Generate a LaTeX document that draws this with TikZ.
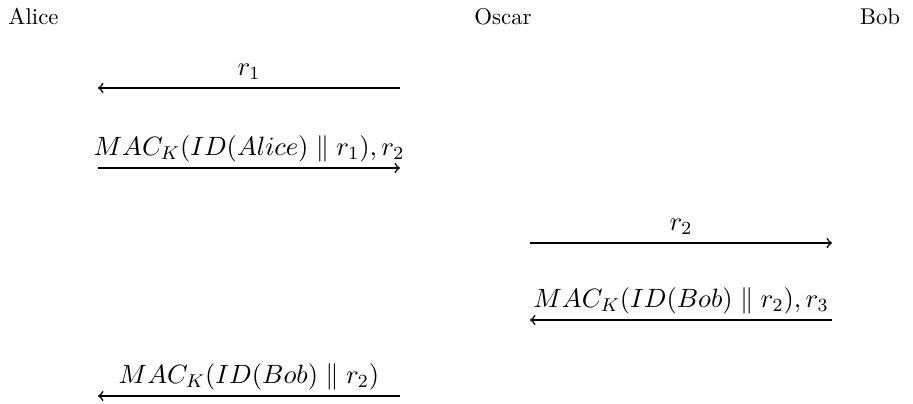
\RequirePackage{fix-cm}
\documentclass[tikz,border=0pt]{standalone}
\usepackage{amsmath}
\usetikzlibrary{positioning}
\tikzset{
    party/.style={
        anchor=base,
        inner sep=0pt
    },
    msg/.style={
        anchor=base,
        yshift=5.5pt,
        inner sep=0pt,
        font=\fontsize{11.6}{14}\selectfont
    },
    every edge/.append style={
        draw,
        ->,>=to,
        line width=0.7pt
    }
}

\begin{document}
\begin{tikzpicture}[x=0.438pt, y=-0.438pt]
                \useasboundingbox (0,0) rectangle (913,404);

                \node[party, anchor=base west] (alice) at (8,25) {Alice};
                \node[party] (oscar) at (503,25) {Oscar};
                \node[party] (bob) at (880,25) {Bob};

                \coordinate (a1) at (98,88);   \coordinate (o1) at (400,88);
                \coordinate (a2) at (98,168);  \coordinate (o2) at (400,168);
                \coordinate (o3) at (530,243); \coordinate (b3) at (832,243);
                \coordinate (o4) at (530,320); \coordinate (b4) at (832,320);
                \coordinate (a5) at (98,396);  \coordinate (o5) at (400,396);

                \draw (o1) edge node[msg] {$r_1$} (a1);
                \draw (a2) edge node[msg] {$MAC_K(ID(Alice) \parallel r_1), r_2$} (o2);
                \draw (o3) edge node[msg] {$r_2$} (b3);
                \draw (b4) edge node[msg] {$MAC_K(ID(Bob) \parallel r_2), r_3$} (o4);
                \draw (o5) edge node[msg] {$MAC_K(ID(Bob) \parallel r_2)$} (a5);
            \end{tikzpicture}
\end{document}
